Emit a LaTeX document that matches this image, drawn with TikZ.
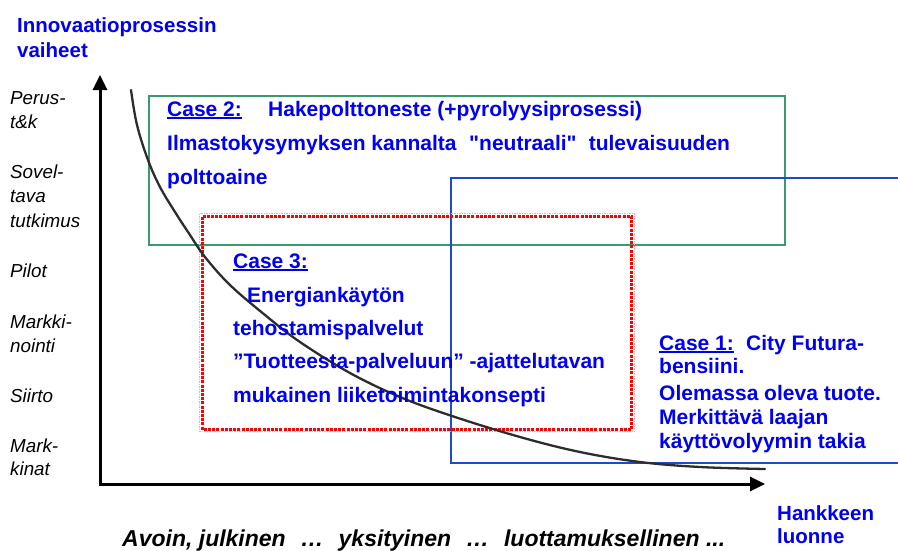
\documentclass[tikz,border=0pt]{standalone}
\usepackage{fontspec}
\setmainfont{Liberation Sans}[Ligatures=TeXOff]
\usetikzlibrary{arrows.meta}
\definecolor{txtblue}{RGB}{0,0,240}
\definecolor{boxblue}{RGB}{30,75,200}
\definecolor{boxgreen}{RGB}{60,155,110}
\definecolor{curvegray}{RGB}{45,45,45}
\newcommand\myul[1]{\setbox0=\hbox{#1}\rlap{\copy0}\rule[-2.6pt]{\wd0}{1.8pt}}
\begin{document}
\begin{tikzpicture}[x=1pt,y=-1pt,
  hd/.style={anchor=base west, inner sep=0, text=txtblue, font=\fontsize{20.5}{24}\selectfont\bfseries},
  bt/.style={anchor=base west, inner sep=0, text=txtblue, font=\fontsize{21}{24}\selectfont\bfseries},
  lab/.style={anchor=base west, inner sep=0, font=\fontsize{18.8}{24}\selectfont\itshape},
  bottomtxt/.style={anchor=base west, inner sep=0, font=\fontsize{23}{26}\selectfont\bfseries\itshape},
  axisline/.style={line width=3pt, line join=miter, {Triangle[length=15pt,width=14pt]}-{Triangle[length=15pt,width=14pt]}},
  greenbox/.style={draw=boxgreen, line width=1.6pt},
  bluebox/.style={draw=boxblue, line width=1.6pt},
]
\useasboundingbox (0,0) rectangle (898,550);
% boxes
\draw[greenbox] (149,96) rectangle (785,245);
\draw[bluebox] (900,178) -- (451,178) -- (451,463) -- (900,463);
\draw[red!35, line width=1.2pt, dash pattern=on 1.5pt off 1pt] (199.5,213.5) rectangle (634.5,431.5);
\draw[red, line width=3pt, dash pattern=on 3pt off 1.2pt] (202.5,216.5) rectangle (631.5,429.5);
% axes
\coordinate (o) at (100,484);
\coordinate (ytip) at (100,75);
\coordinate (xtip) at (765,484);
\draw[axisline] (ytip) -- (o) -- (xtip);
% curve
\draw[curvegray, line width=2.3pt, line cap=round] plot[smooth, tension=0.6] coordinates {(131,90) (137,125) (148,160) (160,187) (175,212) (190,235) (205,257) (230,285) (265,315) (300,342) (350,373) (400,397) (452,416) (520,437) (580,452) (640,462) (700,467) (765,469)};
% header
\node[hd] (h1) at (17,32) {Innovaatioprosessin};
\node[hd] (h2) at (17,57) {vaiheet};
% stage labels
\node[lab] (l1) at (10,104) {Perus-};
\node[lab] (l2) at (10,128) {t\&k};
\node[lab] (l3) at (10,178) {Sovel-};
\node[lab] (l4) at (10,202) {tava};
\node[lab] (l5) at (10,227) {tutkimus};
\node[lab] (l6) at (10,277) {Pilot};
\node[lab] (l7) at (10,328) {Markki-};
\node[lab] (l8) at (10,352) {nointi};
\node[lab] (l9) at (10,402) {Siirto};
\node[lab] (l10) at (10,452) {Mark-};
\node[lab] (l11) at (10,475) {kinat};
% case 2
\node[bt] (c2a) at (167,116) {\myul{Case 2:}};
\node[bt] (c2b) at (268,116) {Hakepolttoneste (+pyrolyysiprosessi)};
\node[bt] (c2c) at (167,150) {Ilmastokysymyksen kannalta\hspace{0.6em}"neutraali"\hspace{0.3em} tulevaisuuden};
\node[bt] (c2d) at (167,184) {polttoaine};
% case 3
\node[bt] (c3a) at (233,268) {\myul{Case 3:}};
\node[bt] (c3b) at (247,302) {Energiankäytön};
\node[bt] (c3c) at (233,335) {tehostamispalvelut};
\node[bt] (c3d) at (233,368) {”Tuotteesta-palveluun” -ajattelutavan};
\node[bt] (c3e) at (233,402) {mukainen liiketoimintakonsepti};
% case 1
\node[bt] (c1a) at (659,350) {\myul{Case 1:}};
\node[bt] (c1b) at (746,350) {City Futura-};
\node[bt] (c1c) at (659,373) {bensiini.};
\node[bt] (c1d) at (659,400) {Olemassa oleva tuote.};
\node[bt] (c1e) at (659,424) {Merkittävä laajan};
\node[bt] (c1f) at (659,448) {käyttövolyymin takia};
% bottom
\node[bottomtxt] (b1) at (122,546) {Avoin, julkinen\hspace{0.65em}…\hspace{0.65em}yksityinen\hspace{0.65em}…\hspace{0.65em}luottamuksellinen ...};
\node[hd] (x1) at (777,520) {Hankkeen};
\node[hd] (x2) at (777,543) {luonne};
\end{tikzpicture}
\end{document}
